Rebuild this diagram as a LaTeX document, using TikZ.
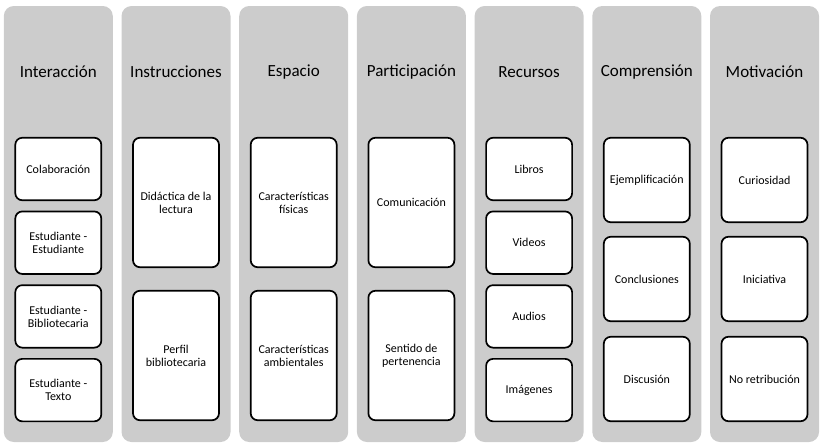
\documentclass[tikz,border=0pt]{standalone}
\usepackage{fontspec}
\setmainfont{Carlito}
\definecolor{gris}{RGB}{204,204,204}
\begin{document}
\begin{tikzpicture}[x=1pt,y=-1pt,
  columna/.style={fill=gris,rounded corners=10pt,minimum width=109pt,minimum height=436pt,inner sep=0pt},
  titulo/.style={font=\fontsize{17}{20}\selectfont},
  caja/.style={draw,fill=white,line width=1.7pt,rounded corners=7pt,minimum width=86pt,
    align=center,inner sep=0pt,font=\fontsize{12}{13}\selectfont},
  caja2/.style={caja,minimum height=129.5pt},
  caja3/.style={caja,minimum height=84.5pt},
  caja4/.style={caja,minimum height=62.5pt}]
\useasboundingbox (0,0) rectangle (822,445);
\foreach \t [count=\i] in {Interacción,Instrucciones,Espacio,Participación,Recursos,Comprensión,Motivación}
{
  \node[columna] (col\i) at ({58.3+117.7*(\i-1)},224) {};
  \node[titulo] (tit\i) at ({58.3+117.7*(\i-1)},72) {\t};
}
\node[caja4] (int1) at (col1 |- 0,169) {Colaboración};
\node[caja4] (int2) at (col1 |- 0,242.7) {Estudiante -\\Estudiante};
\node[caja4] (int3) at (col1 |- 0,316.4) {Estudiante -\\Bibliotecaria};
\node[caja4] (int4) at (col1 |- 0,390.1) {Estudiante -\\Texto};
\node[caja2] (ins1) at (col2 |- 0,202.5) {Didáctica de la\\lectura};
\node[caja2] (ins2) at (col2 |- 0,355.5) {Perfil\\bibliotecaria};
\node[caja2] (esp1) at (col3 |- 0,202.5) {Características\\físicas};
\node[caja2] (esp2) at (col3 |- 0,355.5) {Características\\ambientales};
\node[caja2] (par1) at (col4 |- 0,202.5) {Comunicación};
\node[caja2] (par2) at (col4 |- 0,355.5) {Sentido de\\pertenencia};
\node[caja4] (rec1) at (col5 |- 0,169) {Libros};
\node[caja4] (rec2) at (col5 |- 0,242.7) {Videos};
\node[caja4] (rec3) at (col5 |- 0,316.4) {Audios};
\node[caja4] (rec4) at (col5 |- 0,390.1) {Imágenes};
\node[caja3] (com1) at (col6 |- 0,180) {Ejemplificación};
\node[caja3] (com2) at (col6 |- 0,279) {Conclusiones};
\node[caja3] (com3) at (col6 |- 0,379) {Discusión};
\node[caja3] (mot1) at (col7 |- 0,180) {Curiosidad};
\node[caja3] (mot2) at (col7 |- 0,279) {Iniciativa};
\node[caja3] (mot3) at (col7 |- 0,379) {No retribución};
\end{tikzpicture}
\end{document}
